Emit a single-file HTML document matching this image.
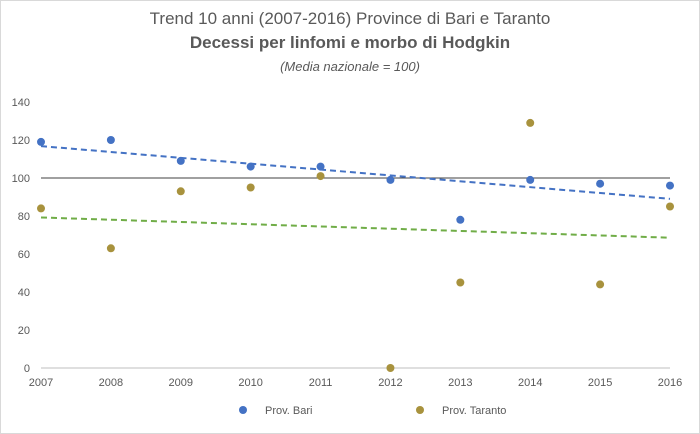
<!DOCTYPE html>
<html><head><meta charset="utf-8"><style>
body{margin:0;background:#fff;font-family:"Liberation Sans",sans-serif}
</style></head><body>
<svg id="c" width="700" height="434" style="display:block">
<rect x="0.5" y="0.5" width="699" height="433" fill="#fff" stroke="#d9d9d9"/>
<text x="350" y="24" text-anchor="middle" font-size="17" fill="#595959">Trend 10 anni (2007-2016) Province di Bari e Taranto</text>
<text x="350" y="48" text-anchor="middle" font-size="17" font-weight="bold" fill="#595959">Decessi per linfomi e morbo di Hodgkin</text>
<text x="350" y="71" text-anchor="middle" font-size="13" font-style="italic" fill="#595959">(Media nazionale = 100)</text>
<g id="g"></g>
<circle cx="243" cy="410" r="4" fill="#4472C4"/>
<text x="265" y="414" font-size="11" fill="#595959">Prov. Bari</text>
<circle cx="420" cy="410" r="4" fill="#A8923D"/>
<text x="442" y="414" font-size="11" fill="#595959">Prov. Taranto</text>
</svg>
<script>
const years=[2007,2008,2009,2010,2011,2012,2013,2014,2015,2016];
const bari=[119,120,109,106,106,99,78,99,97,96];
const taranto=[84,63,93,95,101,0,45,129,44,85];
const yTicks=[0,20,40,60,80,100,120,140];
const ns="http://www.w3.org/2000/svg",g=document.getElementById('g');
const X0=41,X1=670,Y0=368,Y1=102;
const xs=i=>X0+(X1-X0)*i/(years.length-1);
const ys=v=>Y0-(Y0-Y1)*v/140;
function mk(t,a){const e=document.createElementNS(ns,t);for(const k in a)e.setAttribute(k,a[k]);g.appendChild(e);return e;}
yTicks.forEach(v=>{const t=mk('text',{x:30,y:ys(v)+4,'text-anchor':'end','font-size':11,fill:'#595959'});t.textContent=v;

});
years.forEach((y,i)=>{const t=mk('text',{x:xs(i),y:Y0+18,'text-anchor':'middle','font-size':11,fill:'#595959'});t.textContent=y;

});
const ax=mk('line',{x1:X0,x2:X1,y1:Y0,y2:Y0,stroke:'#bfbfbf'});


const ref=mk('line',{x1:X0,x2:X1,y1:ys(100),y2:ys(100),stroke:'#404040','stroke-width':1});


function trend(d,col,name){const n=d.length,mx=(n-1)/2,my=d.reduce((a,b)=>a+b)/n;let sxy=0,sxx=0;d.forEach((v,i)=>{sxy+=(i-mx)*(v-my);sxx+=(i-mx)*(i-mx);});const s=sxy/sxx;
const l=mk('line',{x1:xs(0),x2:xs(n-1),y1:ys(my-s*mx),y2:ys(my+s*mx),stroke:col,'stroke-width':2,'stroke-dasharray':'6,4'});

}
trend(bari,'#4472C4','trend-bari');
trend(taranto,'#70AD47','trend-taranto');
function pts(d,col,name){d.forEach((v,i)=>{const c=mk('circle',{cx:xs(i),cy:ys(v),r:4,fill:col});

});}
pts(bari,'#4472C4','point-bari');
pts(taranto,'#A8923D','point-taranto');
</script>
</body></html>
